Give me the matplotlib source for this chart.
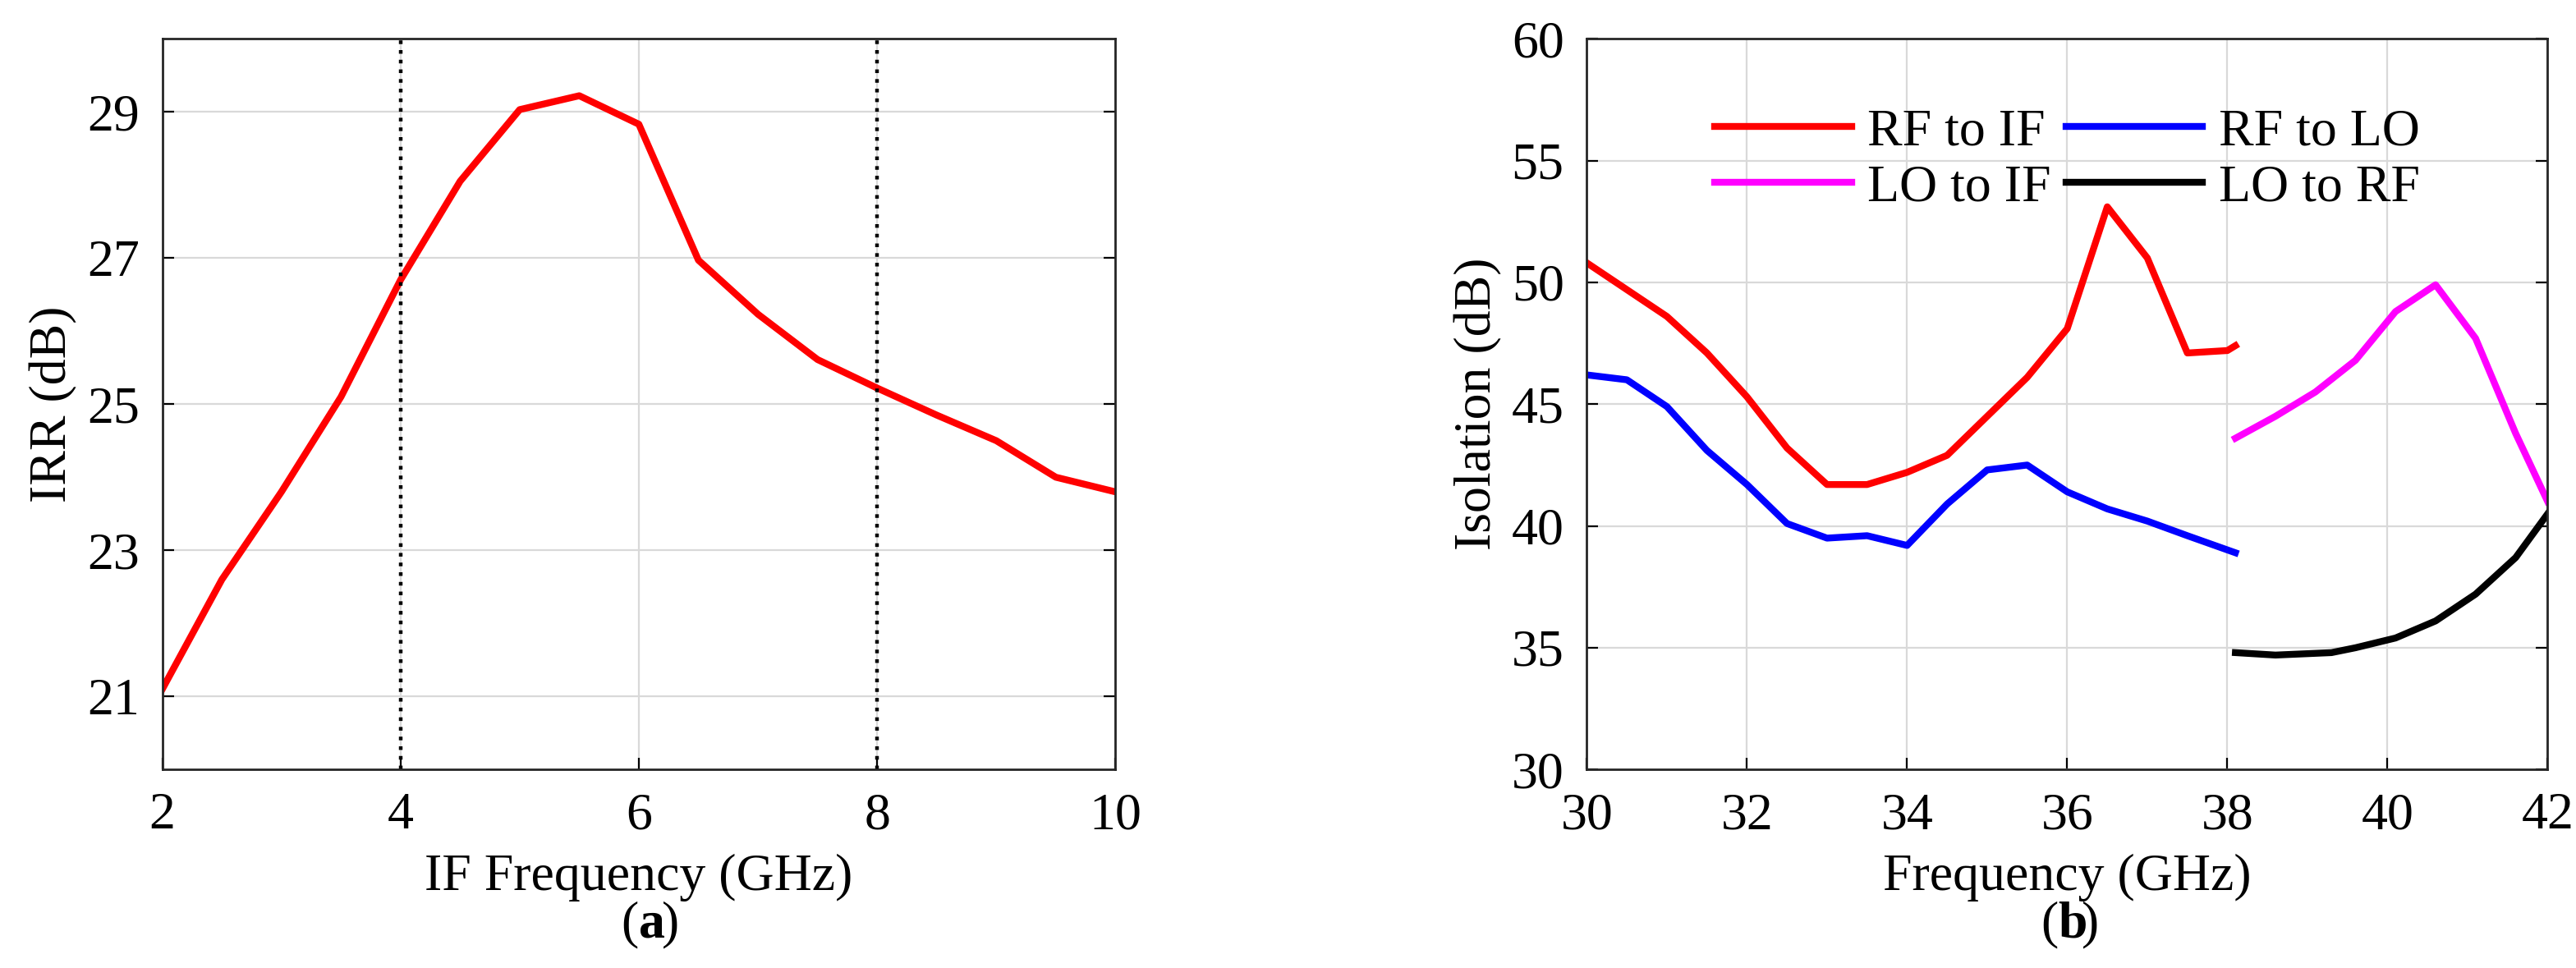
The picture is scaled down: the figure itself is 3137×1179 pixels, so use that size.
import matplotlib
matplotlib.use("Agg")
import matplotlib.pyplot as plt

plt.rcParams['font.family'] = ['Liberation Serif', 'DejaVu Serif']

if_freq = [2, 2.5, 3, 3.5, 4, 4.5, 5, 5.5, 6, 6.5, 7, 7.5, 8, 8.5, 9, 9.5, 10]
irr = [21.1, 22.6, 23.8, 25.1, 26.7, 28.05, 29.03, 29.22, 28.83, 26.97, 26.23, 25.61, 25.22, 24.85, 24.5, 24.0, 23.8]

rf_x = [30, 30.5, 31, 31.5, 32, 32.5, 33, 33.5, 34, 34.5, 35, 35.5, 36, 36.5, 37, 37.5, 38, 38.1]
rf_if = [50.8, 49.7, 48.6, 47.1, 45.3, 43.2, 41.7, 41.7, 42.2, 42.9, 44.5, 46.1, 48.1, 53.1, 51.0, 47.1, 47.2, 47.4]
rf_lo_x = [30, 30.5, 31, 31.5, 32, 32.5, 33, 33.5, 34, 34.5, 35, 35.5, 36, 36.5, 37, 37.5, 38.1]
rf_lo = [46.2, 46.0, 44.9, 43.1, 41.7, 40.1, 39.5, 39.6, 39.2, 40.9, 42.3, 42.5, 41.4, 40.7, 40.2, 39.6, 38.9]
lo_if_x = [38.1, 38.6, 39.1, 39.6, 40.1, 40.6, 41.1, 41.6, 42]
lo_if = [43.6, 44.5, 45.5, 46.8, 48.8, 49.9, 47.7, 43.8, 41.0]
lo_rf_x = [38.1, 38.6, 39.3, 39.6, 40.1, 40.6, 41.1, 41.6, 42]
lo_rf = [34.8, 34.7, 34.8, 35.0, 35.4, 36.1, 37.2, 38.7, 40.5]

fs = 23
fig = plt.figure(figsize=(15.685, 5.895), dpi=200)
ax1 = fig.add_axes([0.063, 0.205, 0.370, 0.755])
ax2 = fig.add_axes([0.616, 0.205, 0.373, 0.755])

for ax in (ax1, ax2):
    ax.grid(True, color='#d9d9d9', linewidth=0.8)
    ax.set_axisbelow(True)
    ax.tick_params(direction='in', labelsize=fs, top=False, right=True, length=5, pad=10)
    for s in ax.spines.values():
        s.set_linewidth(1.0)
        s.set_color('#262626')

ax1.plot(if_freq, irr, color='red', linewidth=3)
ax1.axvline(4, color='black', linestyle=':', linewidth=1.6)
ax1.axvline(8, color='black', linestyle=':', linewidth=1.6)
ax1.set_xlim(2, 10)
ax1.set_ylim(20, 30)
ax1.set_xticks([2, 4, 6, 8, 10])
ax1.set_yticks([21, 23, 25, 27, 29])
ax1.set_xlabel('IF Frequency (GHz)', fontsize=fs, labelpad=6)
ax1.set_ylabel('IRR (dB)', fontsize=fs)

h1, = ax2.plot(rf_x, rf_if, color='red', linewidth=3, label='RF to IF')
h2, = ax2.plot(rf_lo_x, rf_lo, color='blue', linewidth=3, label='RF to LO')
h3, = ax2.plot(lo_if_x, lo_if, color='magenta', linewidth=3, label='LO to IF')
h4, = ax2.plot(lo_rf_x, lo_rf, color='black', linewidth=3, label='LO to RF')
ax2.set_xlim(30, 42)
ax2.set_ylim(30, 60)
ax2.set_xticks([30, 32, 34, 36, 38, 40, 42])
ax2.set_yticks([30, 35, 40, 45, 50, 55, 60])
ax2.set_xlabel('Frequency (GHz)', fontsize=fs, labelpad=6)
ax2.set_ylabel('Isolation (dB)', fontsize=fs)
ax2.legend([h1, h3, h2, h4], ['RF to IF', 'LO to IF', 'RF to LO', 'LO to RF'],
           ncol=2, loc='upper center', bbox_to_anchor=(0.5, 0.97), frameon=False,
           fontsize=fs, handlelength=2.6, columnspacing=0.3, handletextpad=0.3,
           labelspacing=0.15)

for xc, letter in ((0.252, 'a'), (0.803, 'b')):
    fig.text(xc - 0.004, 0.02, '(', fontsize=fs, ha='right', va='bottom')
    fig.text(xc - 0.004, 0.02, letter, fontsize=fs, ha='left', va='bottom', fontweight='bold')
    fig.text(xc + 0.005, 0.02, ')', fontsize=fs, ha='left', va='bottom')

fig.savefig('out.png', dpi=200)
